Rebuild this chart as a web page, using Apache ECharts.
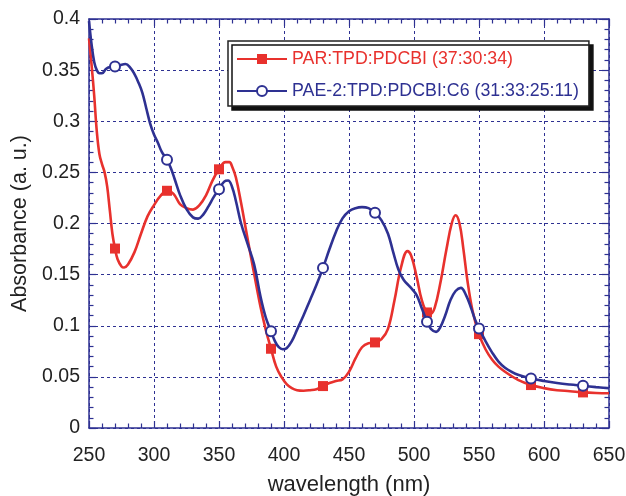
<!DOCTYPE html>
<html><head><meta charset="utf-8">
<script src="https://cdn.jsdelivr.net/npm/echarts@6/dist/echarts.min.js"></script>
<style>html,body{margin:0;padding:0;background:#fff}#c{width:626px;height:496px}</style>
</head><body><div id="c"></div>
<script>
const redName = 'PAR:TPD:PDCBI (37:30:34)';
const blueName = 'PAE-2:TPD:PDCBI:C6 (31:33:25:11)';
const xAxisTitle = 'wavelength (nm)';
const yAxisTitle = 'Absorbance (a. u.)';

const redWavelength = [250,252,254,256,258,260,262,264,266,268,270,272,275,277,280,285,290,295,300,305,310,315,320,325,330,335,340,345,350,355,358,360,363,367,372,377,382,386,390,394,398,402,406,410,415,420,425,430,435,440,445,450,455,460,465,470,475,480,485,490,495,498,502,506,510,513,516,520,525,529,532,535,538,541,545,550,555,560,565,570,580,590,600,610,620,630,640,650];
const redAbsorbance = [0.381,0.355,0.325,0.29,0.268,0.258,0.25,0.236,0.213,0.19,0.1755,0.165,0.158,0.157,0.16,0.172,0.19,0.207,0.218,0.227,0.232,0.229,0.219,0.215,0.2136,0.218,0.2275,0.242,0.253,0.26,0.26,0.256,0.245,0.22,0.185,0.151,0.118,0.096,0.0775,0.06,0.05,0.043,0.039,0.037,0.0365,0.037,0.038,0.041,0.044,0.046,0.0475,0.055,0.068,0.079,0.083,0.0837,0.087,0.097,0.125,0.157,0.173,0.168,0.148,0.125,0.113,0.112,0.118,0.14,0.175,0.2,0.208,0.2,0.175,0.145,0.115,0.0918,0.077,0.067,0.06,0.055,0.047,0.042,0.039,0.037,0.036,0.0348,0.0342,0.034];

const blueWavelength = [250,252,254,256,258,260,263,266,270,274,278,282,285,288,291,294,297,300,303,306,310,313,316,320,325,330,334,338,342,346,350,354,357,360,363,367,372,377,382,386,390,393,396,399,402,406,410,415,420,425,430,435,440,445,450,455,460,465,470,475,480,484,488,492,497,502,506,510,513,517,520,524,528,532,536,540,544,547,550,555,560,565,570,575,580,590,600,610,620,630,640,650];
const blueAbsorbance = [0.398,0.375,0.358,0.35,0.347,0.347,0.351,0.353,0.3535,0.355,0.356,0.352,0.346,0.338,0.328,0.313,0.298,0.287,0.279,0.27,0.2624,0.254,0.243,0.228,0.214,0.206,0.2048,0.209,0.217,0.226,0.2334,0.241,0.242,0.236,0.222,0.2,0.18,0.16,0.128,0.108,0.0947,0.085,0.079,0.077,0.078,0.085,0.096,0.11,0.125,0.14,0.1566,0.175,0.192,0.205,0.212,0.215,0.216,0.215,0.2106,0.203,0.19,0.172,0.155,0.145,0.138,0.13,0.117,0.104,0.097,0.094,0.098,0.11,0.125,0.134,0.137,0.13,0.117,0.106,0.0974,0.085,0.074,0.065,0.059,0.055,0.052,0.0485,0.046,0.044,0.0425,0.0413,0.04,0.0388];

const markerWavelengths = [270,310,350,390,430,470,510,550,590,630];

const RED = '#e8312d';
const BLUE = '#2e3192';
const FONT = 'Liberation Sans';

function build(ws, as) {
  return ws.map((w, i) => markerWavelengths.indexOf(w) >= 0
    ? { value: [w, as[i]] }
    : { value: [w, as[i]], symbol: 'none' });
}

const axisLineStyle = { color: BLUE, width: 1.5 };
const baseX = {
  type: 'value', min: 250, max: 650, interval: 50,
  axisLine: { show: true, onZero: false, lineStyle: axisLineStyle },
  axisTick: { show: true, inside: true, length: 7, lineStyle: { color: BLUE, width: 1.2 } },
  minorTick: { show: true, splitNumber: 5, length: 4.5, lineStyle: { color: BLUE, width: 1.2 } },
};
const baseY = {
  type: 'value', min: 0, max: 0.4, interval: 0.05,
  axisLine: { show: true, onZero: false, lineStyle: axisLineStyle },
  axisTick: { show: true, inside: true, length: 7, lineStyle: { color: BLUE, width: 1.2 } },
  minorTick: { show: true, splitNumber: 5, length: 4.5, lineStyle: { color: BLUE, width: 1.2 } },
};
const gridDash = { show: true, lineStyle: { color: BLUE, width: 1, type: [3, 3] } };

const chart = echarts.init(document.getElementById('c'), null, { renderer: 'canvas' });
chart.setOption({
  animation: false,
  backgroundColor: '#fff',
  grid: { left: 89, right: 17, top: 19, bottom: 68, containLabel: false, outerBoundsMode: 'none' },
  xAxis: [
    Object.assign({}, baseX, {
      position: 'bottom',
      name: xAxisTitle, nameLocation: 'middle', nameGap: 46,
      nameTextStyle: { fontSize: 22, fontFamily: FONT, color: '#222' },
      axisLabel: { show: true, margin: 18, fontSize: 19.5, fontFamily: FONT, color: '#222' },
      splitLine: gridDash
    }),
    Object.assign({}, baseX, {
      position: 'top', axisLabel: { show: false }, splitLine: { show: false }
    })
  ],
  yAxis: [
    Object.assign({}, baseY, {
      position: 'left',
      name: yAxisTitle, nameLocation: 'middle', nameGap: 57,
      nameTextStyle: { fontSize: 21.5, fontFamily: FONT, color: '#222' },
      axisLabel: { show: true, margin: 9, fontSize: 19.5, fontFamily: FONT, color: '#222' },
      splitLine: gridDash
    }),
    Object.assign({}, baseY, {
      position: 'right', axisLabel: { show: false }, splitLine: { show: false }
    })
  ],
  legend: {
    orient: 'vertical', left: 228, top: 41,
    itemWidth: 50, itemHeight: 12.5, itemGap: 14,
    padding: [9, 10, 6, 8],
    backgroundColor: '#fff', borderColor: '#222', borderWidth: 1.5,
    shadowColor: '#111', shadowBlur: 0, shadowOffsetX: 4, shadowOffsetY: 4,
    textStyle: { fontSize: 17.8, fontFamily: FONT },
    data: [
      { name: redName, textStyle: { color: RED } },
      { name: blueName, textStyle: { color: BLUE } }
    ]
  },
  series: [
    {
      name: redName, type: 'line', smooth: 0.4,
      data: build(redWavelength, redAbsorbance),
      symbol: 'rect', symbolSize: 10, showSymbol: true, showAllSymbol: true,
      lineStyle: { color: RED, width: 2.6 },
      itemStyle: { color: RED, borderWidth: 0 },
      z: 3
    },
    {
      name: blueName, type: 'line', smooth: 0.4,
      data: build(blueWavelength, blueAbsorbance),
      symbol: 'emptyCircle', symbolSize: 10, showSymbol: true, showAllSymbol: true,
      lineStyle: { color: BLUE, width: 2.6 },
      itemStyle: { color: BLUE, borderColor: BLUE, borderWidth: 1.5 },
      z: 4
    }
  ]
});
</script>
</body></html>
